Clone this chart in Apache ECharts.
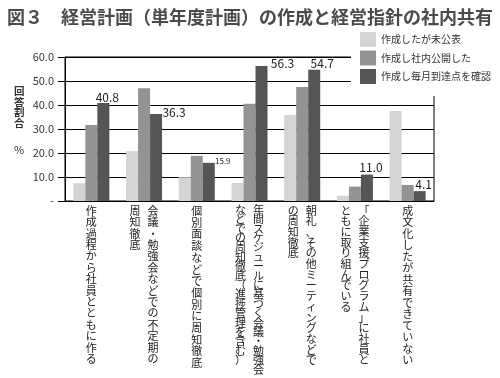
<!DOCTYPE html>
<html>
<head>
<meta charset="utf-8">
<script src="https://cdn.jsdelivr.net/npm/echarts@6/dist/echarts.min.js"></script>
<style>html,body{margin:0;padding:0;background:#fff;}#c{width:500px;height:378px;}</style>
</head>
<body>
<div id="c"></div>
<script>
// ---- data ----
const titleText = '図３　経営計画（単年度計画）の作成と経営指針の社内共有';
const seriesNames = ['作成したが未公表', '作成し社内公開した', '作成し毎月到達点を確認'];
const categories = [
  '作成過程から社員とともに作る',
  '会議・勉強会などでの不定期の周知徹底',
  '個別面談などで個別に周知徹底',
  '年間スケジュールに基づく会議・勉強会などでの周知徹底（進捗管理を含む）',
  '朝礼、その他ミーティングなどでの周知徹底',
  '「企業支援プログラム」に社員とともに取り組んでいる',
  '成文化したが共有できていない'
];
// length of the first (right-hand) vertical column of each category label
const firstColumnLength = [14, 14, 14, 18, 15, 15, 14];
const unpublished = [7.4, 20.8, 9.9, 7.5, 35.8, 2.2, 37.5];
const publishedInternal = [31.7, 47.0, 18.8, 40.5, 47.5, 6.0, 6.7];
const monthlyCheck = [40.8, 36.3, 15.9, 56.3, 54.7, 11.0, 4.1];
const yTicks = [0, 10, 20, 30, 40, 50, 60];

// ---- styles (not data) ----
const colors = ['#d4d4d4', '#939393', '#555555'];
const lineHeights = [11.4, 11.4, 11.7, 9.4, 10.7, 10.7, 11.5];
const labelOffsets = [[4, -6], [18, -1], [14, -2], [21, -2], [8, -6], [4, -7], [4, -7]];
const labelSizes = [12, 12, 8, 12, 12, 12, 12];
const FONT = '"Noto Sans CJK JP", "Noto Sans", sans-serif';

const rich = {};
categories.forEach((c, i) => {
  const base = { fontSize: 11, lineHeight: lineHeights[i], color: '#222', fontFamily: FONT };
  rich['S' + i] = Object.assign({}, base);
  rich['L' + i] = Object.assign({ width: 18, align: 'center' }, base);
  rich['R' + i] = Object.assign({ width: 18, align: 'center' }, base);
});

function verticalLabel(value, index) {
  const chars = Array.from(value);
  const n = firstColumnLength[index];
  const right = chars.slice(0, n);
  const left = chars.slice(n);
  if (left.length === 0) {
    return right.map(ch => `{S${index}|${ch}}`).join('\n');
  }
  const rows = [];
  const len = Math.max(right.length, left.length);
  for (let k = 0; k < len; k++) {
    const l = left[k] || '　';
    const r = right[k] || '　';
    rows.push(`{L${index}|${l}}{R${index}|${r}}`);
  }
  return rows.join('\n');
}

const chart = echarts.init(document.getElementById('c'), null, { renderer: 'canvas' });

const darkData = monthlyCheck.map((v, i) => ({
  value: v,
  label: {
    show: true,
    position: 'top',
    distance: 0,
    verticalAlign: 'middle',
    offset: labelOffsets[i],
    fontSize: labelSizes[i],
    color: '#222',
    fontFamily: FONT,
    formatter: p => p.value.toFixed(1)
  }
}));

chart.setOption({
  animation: false,
  backgroundColor: '#fff',
  textStyle: { fontFamily: FONT },
  title: {
    text: titleText,
    left: 2,
    top: 3,
    textStyle: { fontSize: 18, fontWeight: 'bold', color: '#4a4a4a', fontFamily: FONT }
  },
  legend: {
    data: seriesNames,
    orient: 'vertical',
    left: 351,
    top: 32,
    padding: [0, 10, 12, 9],
    itemWidth: 16,
    itemHeight: 15,
    itemGap: 3.5,
    icon: 'rect',
    backgroundColor: '#fff',
    z: 10,
    textStyle: { fontSize: 10, color: '#333', fontFamily: FONT }
  },
  graphic: [
    {
      type: 'text', left: 14, top: 86, z: 10,
      style: { text: '回\n答\n割\n合', fontSize: 10.5, lineHeight: 10.6, fill: '#333', fontFamily: FONT, fontWeight: 'bold' }
    },
    {
      type: 'text', left: 14, top: 144, z: 10,
      style: { text: '%', fontSize: 11, fill: '#333', fontFamily: FONT }
    }
  ],
  grid: {
    left: 65, right: 66, top: 57, bottom: 177,
    show: true, borderColor: '#000', borderWidth: 1, backgroundColor: 'transparent'
  },
  xAxis: {
    type: 'category',
    data: categories,
    axisLine: { show: true, lineStyle: { color: '#000', width: 1 } },
    axisTick: { show: false },
    axisLabel: {
      interval: 0,
      margin: 4,
      verticalAlign: 'top',
      formatter: verticalLabel,
      rich: rich
    }
  },
  yAxis: {
    type: 'value',
    min: yTicks[0],
    max: yTicks[yTicks.length - 1],
    interval: 10,
    axisLine: { show: true, lineStyle: { color: '#000', width: 1 } },
    axisTick: { show: true, length: 7, lineStyle: { color: '#000' } },
    splitLine: { show: true, lineStyle: { color: '#000', width: 1 } },
    axisLabel: {
      fontSize: 11, color: '#333', margin: 11, fontFamily: FONT,
      formatter: v => (v === 0 ? '-' : v.toFixed(1))
    }
  },
  series: [
    { name: seriesNames[0], type: 'bar', data: unpublished, barWidth: 12, barGap: '0%', itemStyle: { color: colors[0] } },
    { name: seriesNames[1], type: 'bar', data: publishedInternal, barWidth: 12, barGap: '0%', itemStyle: { color: colors[1] } },
    { name: seriesNames[2], type: 'bar', data: darkData, barWidth: 12, barGap: '0%', itemStyle: { color: colors[2] } }
  ]
});
</script>
</body>
</html>
